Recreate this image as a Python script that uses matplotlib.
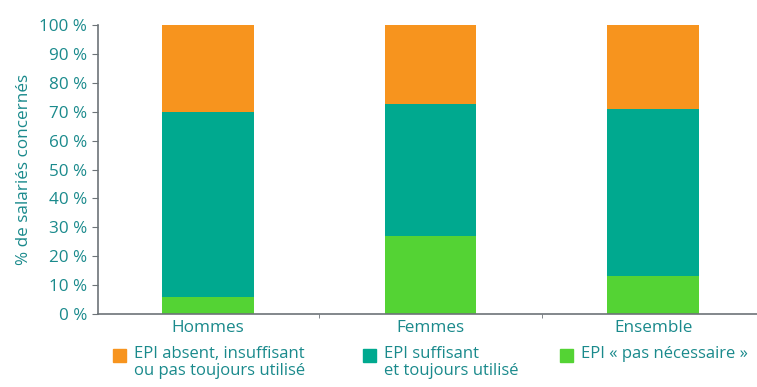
import matplotlib.pyplot as plt
from matplotlib.patches import Rectangle

plt.rcParams['font.family'] = ['Open Sans', 'DejaVu Sans']

# --- données (% de salariés) ---
categories = ['Hommes', 'Femmes', 'Ensemble']
pas_necessaire = [6.0, 27.0, 13.0]
suffisant = [64.0, 45.5, 58.0]
absent = [30.0, 27.5, 29.0]

legend_labels = ['EPI absent, insuffisant\nou pas toujours utilisé',
                 'EPI suffisant\net toujours utilisé',
                 'EPI « pas nécessaire »']

c_orange = '#F7941E'
c_teal = '#00A98F'
c_green = '#54D334'
c_text = '#1A8A8C'
c_axis = '#6D7378'

fig = plt.figure(figsize=(7.57, 3.87), dpi=100)
ax = fig.add_axes([0.1295, 0.1886, 0.8705, 0.7468])

x = range(len(categories))
w = 0.413
bottom2 = pas_necessaire
bottom3 = [a + b for a, b in zip(pas_necessaire, suffisant)]
ax.bar(x, pas_necessaire, width=w, color=c_green, zorder=2)
ax.bar(x, suffisant, width=w, bottom=bottom2, color=c_teal, zorder=2)
ax.bar(x, absent, width=w, bottom=bottom3, color=c_orange, zorder=2)

fs = 12.3
ax.set_xlim(-0.494, 2.467)
ax.set_ylim(0, 100)
ax.set_yticks(range(0, 101, 10))
ax.set_yticklabels([f'{v} %' for v in range(0, 101, 10)], color=c_text, fontsize=fs)
ax.set_xticks(list(x))
ax.set_xticklabels(categories, color=c_text, fontsize=fs)
ax.set_xticks([0.5, 1.5], minor=True)
ax.tick_params(axis='x', which='major', length=0, pad=4)
ax.tick_params(axis='x', which='minor', length=3, color=c_axis)
ax.tick_params(axis='y', length=4, color=c_axis, pad=4)
ax.set_ylabel('% de salariés concernés', color=c_text, fontsize=fs, labelpad=5)

for s in ['top', 'right']:
    ax.spines[s].set_visible(False)
for s in ['left', 'bottom']:
    ax.spines[s].set_color(c_axis)
    ax.spines[s].set_linewidth(1.2)
ax.spines['left'].set_bounds(0, 100)

# légende manuelle en bas
leg_colors = [c_orange, c_teal, c_green]
sq_x = [113, 363, 560]
W, H = 757, 387
for px, col, lab in zip(sq_x, leg_colors, legend_labels):
    fig.patches.append(Rectangle((px / W, (H - 362) / H), 13 / W, 13 / H,
                                 transform=fig.transFigure, color=col))
    fig.text((px + 21) / W, (H - 346) / H, lab, color=c_text, fontsize=12,
             va='top', ha='left', linespacing=1.1)

plt.savefig('out.png', dpi=100)
plt.close()
